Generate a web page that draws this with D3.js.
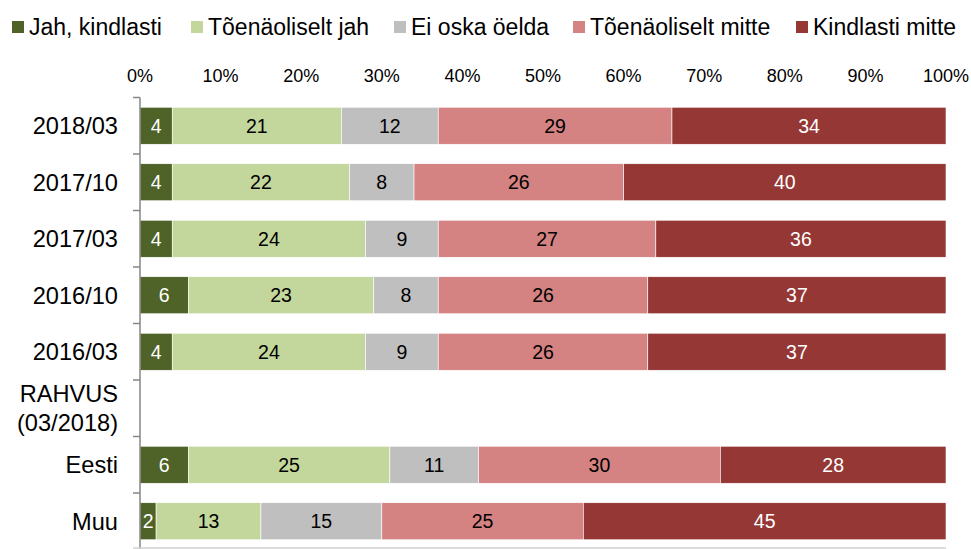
<!DOCTYPE html>
<html><head><meta charset="utf-8">
<script src="https://cdn.jsdelivr.net/npm/d3@7"></script>
<style>body{margin:0;background:#fff}svg{display:block}text{font-family:"Liberation Sans",Arial,sans-serif}</style>
</head><body>
<svg id="c" width="971" height="549"></svg>
<script>
const categories = ["2018/03","2017/10","2017/03","2016/10","2016/03","RAHVUS (03/2018)","Eesti","Muu"];
const seriesNames = ["Jah, kindlasti","Tõenäoliselt jah","Ei oska öelda","Tõenäoliselt mitte","Kindlasti mitte"];
const jahKindlasti     = [4, 4, 4, 6, 4, null, 6, 2];
const toenaoliseltJah  = [21,22,24,23,24, null,25,13];
const eiOskaOelda      = [12, 8, 9, 8, 9, null,11,15];
const toenaoliseltMitte= [29,26,27,26,26, null,30,25];
const kindlastiMitte   = [34,40,36,37,37, null,28,45];
const tickLabels = ["0%","10%","20%","30%","40%","50%","60%","70%","80%","90%","100%"];
const colors = ["#4F6228","#C3D69B","#BFBFBF","#D48282","#953735"];
const labelColors = ["#fff","#000","#000","#000","#fff"];

const series = [jahKindlasti,toenaoliseltJah,eiOskaOelda,toenaoliseltMitte,kindlastiMitte];
const svg = d3.select("#c");
const x = d3.scaleLinear().domain([0,100]).range([140,946]);
const y = d3.scaleBand().domain(categories).range([97.5,549.5]).paddingInner(0.345).paddingOuter(0.1725);

const rows = categories.map((c,i)=>{ const o={cat:c}; seriesNames.forEach((s,j)=>o[s]=series[j][i]||0); return o;});
const stack = d3.stack().keys(seriesNames)(rows);

stack.forEach((layer,j)=>{
  const g = svg.append("g");
  layer.forEach((d,i)=>{
    const v = series[j][i];
    if(v==null) return;
    g.append("rect").attr("x",x(d[0])).attr("y",y(categories[i]))
      .attr("width",x(d[1])-x(d[0])).attr("height",y.bandwidth())
      .attr("fill",colors[j]).attr("stroke","#fff").attr("stroke-width",0.6);
    g.append("text").attr("x",(x(d[0])+x(d[1]))/2).attr("y",y(categories[i])+y.bandwidth()/2)
      .attr("dy","0.36em").attr("text-anchor","middle").attr("font-size",19.5)
      .attr("fill",labelColors[j]).text(v);
  });
});

svg.append("g").selectAll("text").data(tickLabels).join("text")
  .attr("x",(d,i)=>x(i*10)).attr("y",82).attr("text-anchor","middle")
  .attr("font-size",18).attr("fill","#000").text(d=>d);

const ax = svg.append("g");
ax.append("line").attr("x1",140).attr("x2",140).attr("y1",97.5).attr("y2",549).attr("stroke","#868686").attr("stroke-width",1.5);
const bounds = categories.map(c=>y(c)-y.step()*y.paddingInner()/2);
ax.selectAll("line.t").data(bounds).join("line").attr("class","t")
  .attr("x1",133).attr("x2",140).attr("y1",d=>d).attr("y2",d=>d).attr("stroke","#868686").attr("stroke-width",1.5);
svg.append("line").attr("x1",133).attr("x2",946).attr("y1",548).attr("y2",548).attr("stroke","#D0D0D0").attr("stroke-width",1.5);

categories.forEach(c=>{
  const cy = y(c)+y.bandwidth()/2;
  const parts = c.startsWith("RAHVUS") ? ["RAHVUS","(03/2018)"] : [c];
  const t = svg.append("text").attr("text-anchor","end").attr("font-size",23.6).attr("fill","#000");
  parts.forEach((p,k)=>{
    t.append("tspan").attr("x",118).attr("y",cy+(k-(parts.length-1)/2)*29).attr("dy","0.36em").text(p);
  });
});

const legendX = [12,191,394,573,796];
const lg = svg.append("g");
seriesNames.forEach((s,j)=>{
  const lx = legendX[j];
  lg.append("rect").attr("x",lx).attr("y",21).attr("width",12).attr("height",12).attr("fill",colors[j]);
  lg.append("text").attr("x",lx+17).attr("y",35).attr("font-size",23).attr("fill","#000").text(s);
});
</script>
</body></html>
